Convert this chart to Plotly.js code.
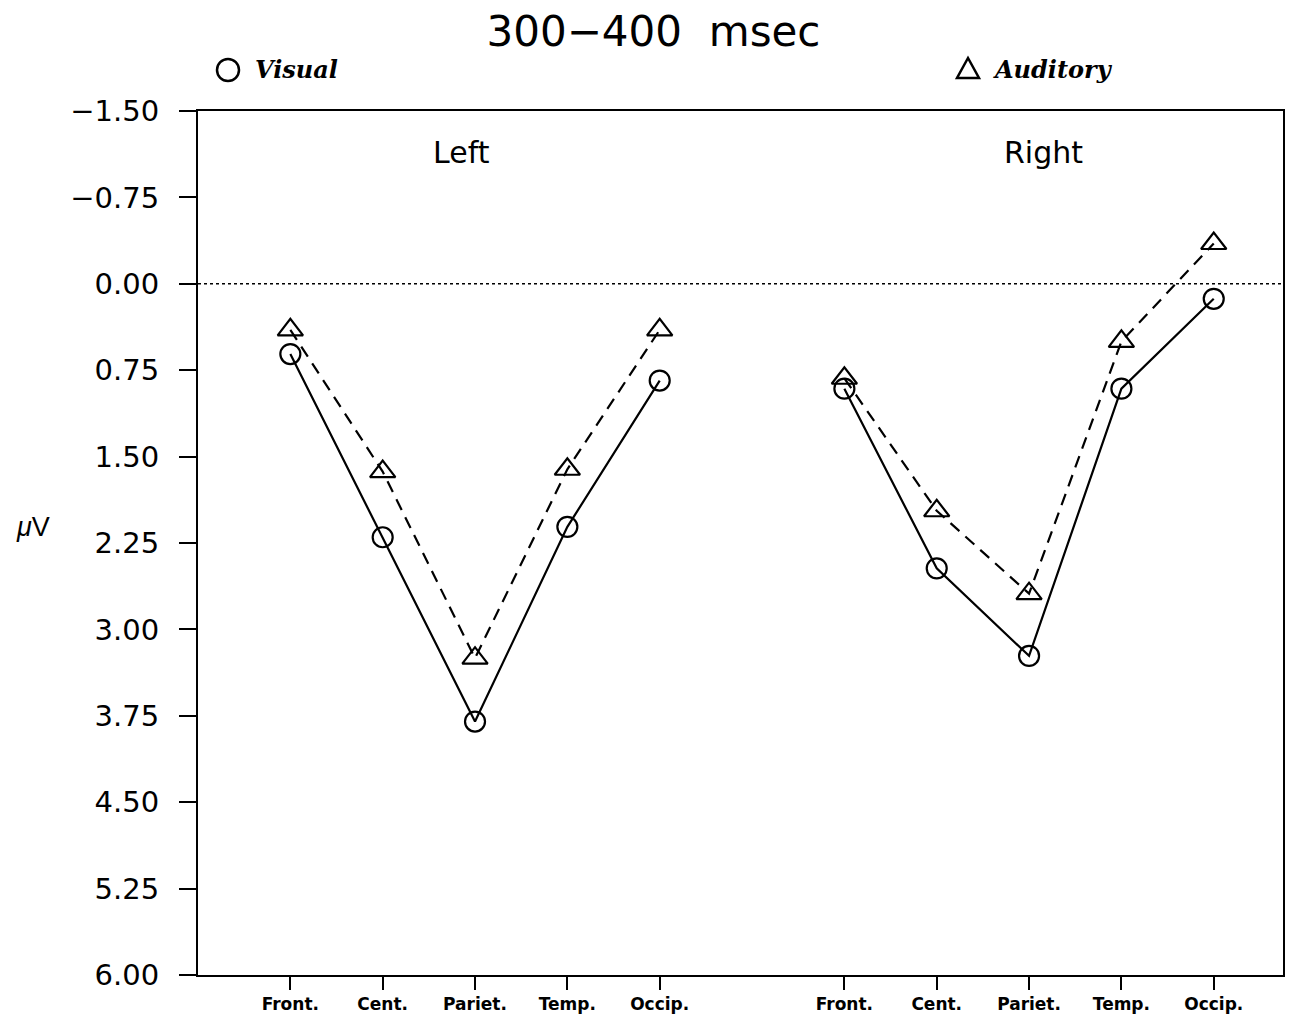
<!DOCTYPE html>
<html>
<head>
<meta charset="utf-8">
<script src="https://cdn.plot.ly/plotly-3.0.1.min.js"></script>
<style>html,body{margin:0;padding:0;background:#fff;}#chart{width:1307px;height:1023px;}</style>
</head>
<body>
<div id="chart"></div>
<script>
// Data (μV, axis is inverted: negative up)
const regions = ["Front.", "Cent.", "Pariet.", "Temp.", "Occip."];
const leftPos = [1, 2, 3, 4, 5];
const rightPos = [7, 8, 9, 10, 11];
const leftVisual = [0.61, 2.20, 3.80, 2.11, 0.84];
const leftAuditory = [0.40, 1.63, 3.25, 1.61, 0.40];
const rightVisual = [0.91, 2.47, 3.23, 0.91, 0.13];
const rightAuditory = [0.82, 1.97, 2.69, 0.50, -0.35];
const yTicks = [-1.5, -0.75, 0, 0.75, 1.5, 2.25, 3, 3.75, 4.5, 5.25, 6];

const visStyle = {
  mode: "lines+markers",
  line: {color: "#000", width: 2.2},
  marker: {symbol: "circle-open", size: 20, color: "#000", line: {width: 2.2, color: "#000"}},
  showlegend: false, hoverinfo: "skip"
};
const audStyle = {
  mode: "lines+markers",
  line: {color: "#000", width: 2.2, dash: "12px,8px"},
  marker: {symbol: "triangle-up-open", size: 22, color: "#000", line: {width: 2.2, color: "#000"}},
  showlegend: false, hoverinfo: "skip"
};

const traces = [
  Object.assign({x: leftPos, y: leftAuditory}, audStyle),
  Object.assign({x: rightPos, y: rightAuditory}, audStyle),
  Object.assign({x: leftPos, y: leftVisual}, visStyle),
  Object.assign({x: rightPos, y: rightVisual}, visStyle)
];

const layout = {
  width: 1307, height: 1023,
  margin: {l: 198, r: 24, t: 111, b: 48},
  paper_bgcolor: "#fff", plot_bgcolor: "#fff",
  font: {family: "DejaVu Sans, sans-serif", color: "#000"},
  title: {
    text: "300\u2212400\u00a0 msec",
    font: {size: 42, family: "DejaVu Sans, sans-serif", color: "#000"},
    x: 0.5, xref: "container", xanchor: "center",
    y: 1 - 31/1023, yref: "container", yanchor: "middle"
  },
  xaxis: {
    range: [0, 11.75],
    tickvals: leftPos.concat(rightPos),
    ticktext: regions.concat(regions),
    ticks: "outside", ticklen: 13, tickwidth: 2, tickcolor: "#000",
    showline: true, linewidth: 2, linecolor: "#000", mirror: true,
    showgrid: false, zeroline: false,
    tickfont: {size: 17, family: "DejaVu Sans, sans-serif", weight: "bold"}
  },
  yaxis: {
    range: [6, -1.5],
    tickvals: yTicks,
    tickformat: ".2f",
    ticks: "outside", ticklen: 17, tickwidth: 2, tickcolor: "#000",
    ticklabelstandoff: 14,
    showline: true, linewidth: 2, linecolor: "#000", mirror: true,
    showgrid: false, zeroline: false,
    tickfont: {size: 29, family: "DejaVu Sans, sans-serif"}
  },
  shapes: [
    {type: "line", xref: "paper", yref: "y", x0: 0, x1: 1, y0: 0, y1: 0,
     line: {color: "#000", width: 1.5, dash: "dot"}},
    // legend symbols
    {type: "circle", xref: "paper", yref: "paper",
     x0: (217 - 198)/1085, x1: (239 - 198)/1085,
     y0: (975 - 81)/864, y1: (975 - 59)/864,
     line: {color: "#000", width: 2.5}},
    {type: "path", xref: "paper", yref: "paper",
     path: "M " + ((957 - 198)/1085) + " " + ((975 - 78)/864) +
           " L " + ((979 - 198)/1085) + " " + ((975 - 78)/864) +
           " L " + ((968 - 198)/1085) + " " + ((975 - 58)/864) + " Z",
     line: {color: "#000", width: 2.5}}
  ],
  annotations: [
    {text: "Left", xref: "paper", yref: "paper", x: (461 - 198)/1085, y: (975 - 152)/864,
     showarrow: false, xanchor: "center", yanchor: "middle",
     font: {size: 30, family: "DejaVu Sans, sans-serif"}},
    {text: "Right", xref: "paper", yref: "paper", x: (1043 - 198)/1085, y: (975 - 152)/864,
     showarrow: false, xanchor: "center", yanchor: "middle",
     font: {size: 30, family: "DejaVu Sans, sans-serif"}},
    {text: "<i>\u03bc</i>V", xref: "paper", yref: "paper", x: (33 - 198)/1085, y: (975 - 527)/864,
     showarrow: false, xanchor: "center", yanchor: "middle",
     font: {size: 27, family: "Liberation Sans, Arial, sans-serif"}},
    {text: "<b><i>Visual</i></b>", xref: "paper", yref: "paper", x: (253 - 198)/1085, y: (975 - 70)/864,
     showarrow: false, xanchor: "left", yanchor: "middle",
     font: {size: 24, family: "DejaVu Serif, serif"}},
    {text: "<b><i>Auditory</i></b>", xref: "paper", yref: "paper", x: (991 - 198)/1085, y: (975 - 70)/864,
     showarrow: false, xanchor: "left", yanchor: "middle",
     font: {size: 24, family: "DejaVu Serif, serif"}}
  ]
};

Plotly.newPlot("chart", traces, layout, {displayModeBar: false, staticPlot: true});
</script>
</body>
</html>
